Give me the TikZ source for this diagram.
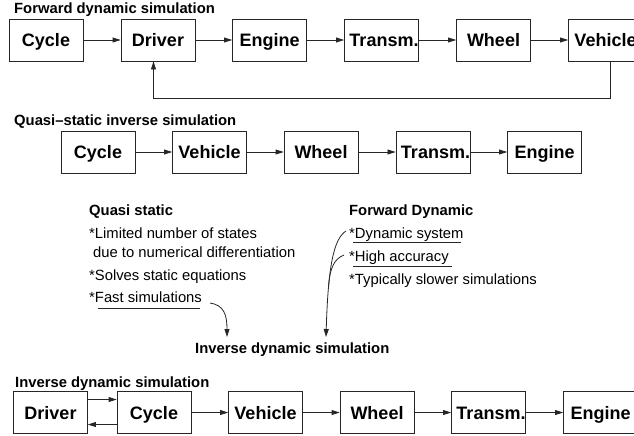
\documentclass[tikz,border=0pt]{standalone}
\usepackage{fontspec}
\setmainfont{Liberation Sans}
\usetikzlibrary{arrows.meta}
\tikzset{
  blk/.style={draw=black!85, line width=0.8pt, minimum width=74pt, minimum height=42pt, inner sep=0pt,
    text height=13pt, text depth=0pt, font=\fontsize{18}{20}\selectfont\bfseries},
  ttl/.style={anchor=base west, inner sep=0pt, font=\fontsize{14.8}{17}\selectfont\bfseries},
  txt/.style={anchor=base west, inner sep=0pt, font=\fontsize{14.8}{17}\selectfont},
  arr/.style={draw=black!85, line width=0.8pt, -{Triangle[length=8pt,width=5pt]}},
  uline/.style={draw=black!85, line width=0.8pt},
}
\begin{document}
\begin{tikzpicture}[x=1pt,y=-1pt]
\useasboundingbox (0,0) rectangle (634,436);
% Row 1
\node[ttl] (t1) at (14,13.5) {Forward dynamic simulation};
\node[blk] (c1) at (46,40) {Cycle};
\node[blk] (d1) at (158,40) {Driver};
\node[blk] (e1) at (269.5,40) {Engine};
\node[blk] (tr1) at (381.5,40) {\hspace*{5pt}Transm.};
\node[blk] (w1) at (493.5,40) {Wheel};
\node[blk] (v1) at (605.5,40) {Vehicle};
\draw[arr] (c1) -- (d1);
\draw[arr] (d1) -- (e1);
\draw[arr] (e1) -- (tr1);
\draw[arr] (tr1) -- (w1);
\draw[arr] (w1) -- (v1);
\coordinate (fb) at (0,98);
\draw[arr] ([xshift=4.5pt]v1.south) -- ([xshift=4.5pt]v1.south |- fb) -| ([xshift=-4.5pt]d1.south);
% Row 2
\node[ttl] (t2) at (14,125.7) {Quasi–static inverse simulation};
\node[blk] (c2) at (98,152) {Cycle};
\node[blk] (v2) at (209.5,152) {Vehicle};
\node[blk] (w2) at (321,152) {Wheel};
\node[blk] (tr2) at (433,152) {\hspace*{5pt}Transm.};
\node[blk] (e2) at (544.5,152) {Engine};
\draw[arr] (c2) -- (v2);
\draw[arr] (v2) -- (w2);
\draw[arr] (w2) -- (tr2);
\draw[arr] (tr2) -- (e2);
% Middle text
\node[ttl] (qs) at (89,215) {Quasi static};
\node[txt] (q1) at (89,238) {*Limited number of states};
\node[txt] (q2) at (93,257) {due to numerical differentiation};
\node[txt] (q3) at (89,280) {*Solves static equations};
\node[txt] (q4) at (89,302) {*Fast simulations};
\draw[uline] (98,308) -- (200,308);
\node[ttl] (fd) at (349,215) {Forward Dynamic};
\node[txt] (f1) at (349,238) {*Dynamic system};
\node[txt] (f2) at (349,261) {*High accuracy};
\node[txt] (f3) at (349,284) {*Typically slower simulations};
\draw[uline] (353,242) -- (461,242);
\draw[uline] (353,266) -- (452,266);
\node[ttl] (ids) at (195,353) {Inverse dynamic simulation};
\coordinate (qa) at (210,303);
\coordinate (qb) at (227,337);
\draw[arr] (qa) .. controls (224,305) and (227,315) .. (qb);
\coordinate (fa) at (346,231);
\coordinate (fb2) at (326,337);
\draw[arr] (fa) .. controls (333,239) and (328,270) .. (fb2);
\coordinate (ha) at (344,255);
\coordinate (hb) at (328.6,286);
\draw[uline] (ha) .. controls (334,259) and (330,268) .. (hb);
% Row 3
\node[ttl] (t3) at (15,387.7) {Inverse dynamic simulation};
\node[blk] (d3) at (50.5,412.5) {Driver};
\node[blk] (c3) at (154,412.5) {Cycle};
\node[blk] (v3) at (265.5,412.5) {Vehicle};
\node[blk] (w3) at (377,412.5) {Wheel};
\node[blk] (tr3) at (488.5,412.5) {\hspace*{5pt}Transm.};
\node[blk] (e3) at (600.5,412.5) {Engine};
\draw[arr] ([yshift=13pt]d3.east) -- ([yshift=13pt]c3.west);
\draw[arr] ([yshift=-12pt]c3.west) -- ([yshift=-12pt]d3.east);
\draw[arr] (c3) -- (v3);
\draw[arr] (v3) -- (w3);
\draw[arr] (w3) -- (tr3);
\draw[arr] (tr3) -- (e3);
\end{tikzpicture}
\end{document}
